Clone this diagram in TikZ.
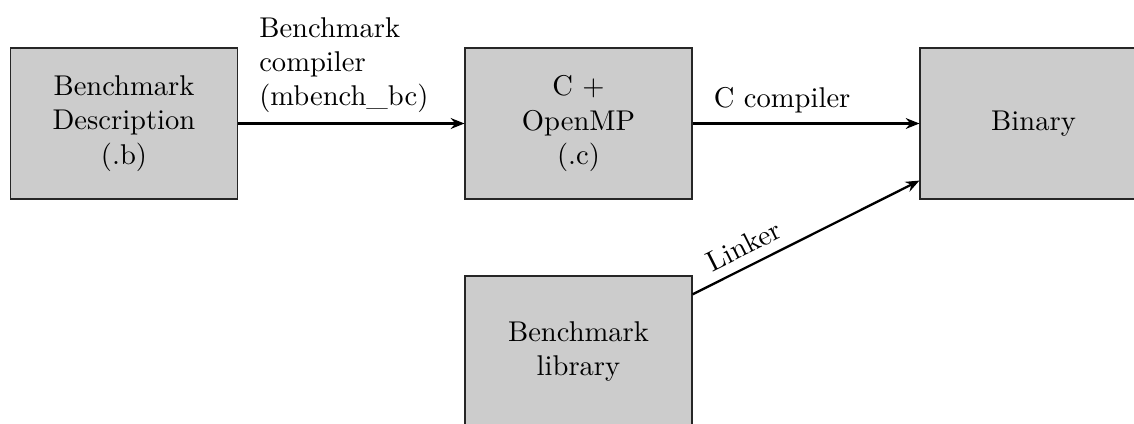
\documentclass[tikz,border=0pt]{standalone}
\usetikzlibrary{arrows.meta}
\begin{document}
\begin{tikzpicture}[x=0.35pt,y=-0.35pt,
  box/.style={draw=black!85,fill=gray!40,minimum width=79.45pt,minimum height=52.85pt,align=center,inner sep=0pt,font=\normalsize},
  conn/.style={thick,-{Stealth[length=4.8pt,width=3.8pt,inset=1.6pt]}},
  lbl/.style={anchor=south west,align=left,xshift=3.7pt}]
\useasboundingbox (0,0) rectangle (1134,423);
\node[box] (desc) at (124,123.5) {Benchmark\\Description\\(.b)};
\node[box] (cmp) at (578.5,123.5) {C +\\OpenMP\\(.c)};
\node[box] (bin) at (1033.5,123.5) {Binary};
\node[box] (lib) at (578.5,351.5) {Benchmark\\library};
\draw[conn] (desc) -- node[lbl,pos=0] {Benchmark\\compiler\\(mbench\_bc)} (cmp);
\draw[conn] (cmp) -- node[lbl,pos=0] {C compiler} (bin);
\draw[conn] (lib) -- node[above,sloped,pos=0.265] {Linker} (bin);
\end{tikzpicture}
\end{document}
